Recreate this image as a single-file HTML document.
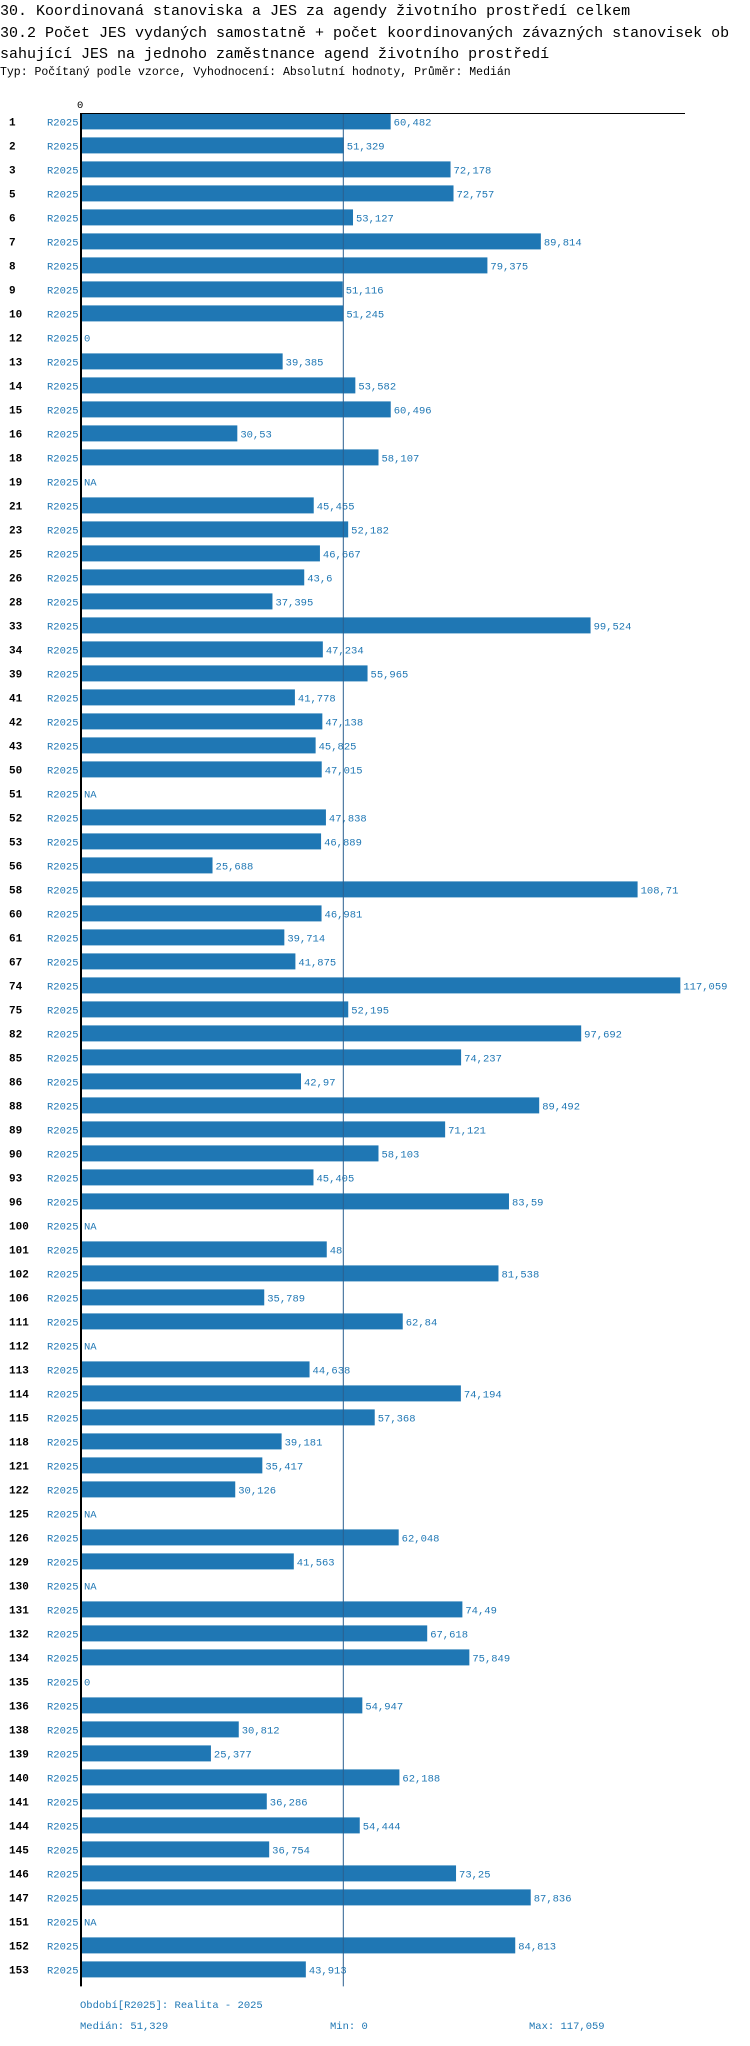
<!DOCTYPE html>
<html><head><meta charset="utf-8">
<style>
body{margin:0;background:#fff;width:750px;height:2046px;overflow:hidden;font-family:"Liberation Mono","DejaVu Sans Mono",monospace;}
.t{position:absolute;left:0;font-size:15px;color:#000;white-space:nowrap;}
.s{position:absolute;left:0;font-size:11.5px;color:#000;white-space:nowrap;}
.f{position:absolute;font-size:10.5px;color:#1f77b4;white-space:nowrap;}
</style></head><body>
<div class="t" style="top:3px">30. Koordinovaná stanoviska a JES za agendy životního prostředí celkem</div>
<div class="t" style="top:25px">30.2 Počet JES vydaných samostatně + počet koordinovaných závazných stanovisek ob</div>
<div class="t" style="top:46px">sahující JES na jednoho zaměstnance agend životního prostředí</div>
<div class="s" style="top:66px">Typ: Počítaný podle vzorce, Vyhodnocení: Absolutní hodnoty, Průměr: Medián</div>
<svg id="chart" width="750" height="2046" style="position:absolute;left:0;top:0" xmlns="http://www.w3.org/2000/svg"></svg>
<div class="f" style="left:80px;top:2000px">Období[R2025]: Realita - 2025</div>
<div class="f" style="left:80px;top:2021px">Medián: 51,329</div>
<div class="f" style="left:330px;top:2021px">Min: 0</div>
<div class="f" style="left:529px;top:2021px">Max: 117,059</div>
<script>
const categories=[1,2,3,5,6,7,8,9,10,12,13,14,15,16,18,19,21,23,25,26,28,33,34,39,41,42,43,50,51,52,53,56,58,60,61,67,74,75,82,85,86,88,89,90,93,96,100,101,102,106,111,112,113,114,115,118,121,122,125,126,129,130,131,132,134,135,136,138,139,140,141,144,145,146,147,151,152,153];
const values=[60.482,51.329,72.178,72.757,53.127,89.814,79.375,51.116,51.245,0,39.385,53.582,60.496,30.53,58.107,null,45.455,52.182,46.667,43.6,37.395,99.524,47.234,55.965,41.778,47.138,45.825,47.015,null,47.838,46.889,25.688,108.71,46.981,39.714,41.875,117.059,52.195,97.692,74.237,42.97,89.492,71.121,58.103,45.405,83.59,null,48,81.538,35.789,62.84,null,44.638,74.194,57.368,39.181,35.417,30.126,null,62.048,41.563,null,74.49,67.618,75.849,0,54.947,30.812,25.377,62.188,36.286,54.444,36.754,73.25,87.836,null,84.813,43.913];
const seriesLabel="R2025";
const median=51.329;
const svg=document.getElementById('chart');
const NS='http://www.w3.org/2000/svg';
const x0=81, k=5.12, rowTop=121.4, pitch=24.0, barH=16;
const xs=v=>x0+v*k;
const ys=i=>rowTop+i*pitch;
function mk(tag,attrs){const e=document.createElementNS(NS,tag);for(const a in attrs)e.setAttribute(a,attrs[a]);svg.appendChild(e);return e;}
const fmt=v=>v===null?'NA':String(v).replace('.',',');
const bottom=ys(categories.length-1)+17;
let e;
categories.forEach((c,i)=>{
  const cy=ys(i);
  const v=values[i];
  let t=mk('text',{x:9,y:cy+4,'font-size':11,'font-weight':'bold',fill:'#000','font-family':'Liberation Mono, monospace'});
  t.textContent=c;
  
  
  t=mk('text',{x:47,y:cy+4,'font-size':10.5,fill:'#1f77b4','font-family':'Liberation Mono, monospace'});
  t.textContent=seriesLabel;
  
  
  let end=x0;
  if(v!==null&&v>0){
    const r=mk('rect',{x:x0,y:cy-barH/2,width:xs(v)-x0,height:barH,fill:'#1f77b4'});
    
    
    end=xs(v);
  }
  t=mk('text',{x:end+3,y:cy+4,'font-size':10.5,fill:'#1f77b4','font-family':'Liberation Mono, monospace'});
  t.textContent=fmt(v);
  
  
});
e=mk('line',{x1:xs(median)-0.5,x2:xs(median)-0.5,y1:114,y2:bottom,stroke:'#2a5f8f','stroke-width':1});


e=mk('line',{x1:x0,x2:685,y1:113.5,y2:113.5,stroke:'#000','stroke-width':1});


e=mk('line',{x1:x0,x2:x0,y1:113,y2:bottom,stroke:'#000','stroke-width':2});


e=mk('text',{x:x0-4,y:108,'font-size':10.5,fill:'#000','font-family':'Liberation Mono, monospace'});
e.textContent='0';


</script>
</body></html>
